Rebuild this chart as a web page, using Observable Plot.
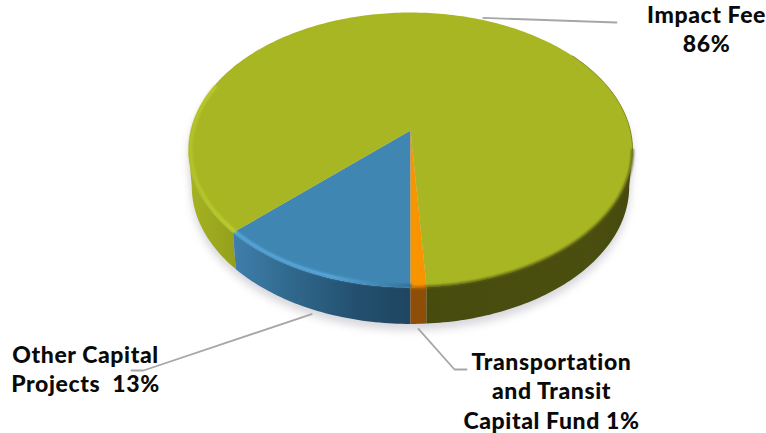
<!DOCTYPE html>
<html>
<head>
<meta charset="utf-8">
<script src="https://cdn.jsdelivr.net/npm/d3@7"></script>
<script src="https://cdn.jsdelivr.net/npm/@observablehq/plot@0.6"></script>
<style>html,body{margin:0;padding:0;background:#fff}svg{display:block}</style>
</head>
<body>
<div id="chart"></div>
<script>
// Data, in drawing order clockwise from the bottom of the pie
const categories = ["Other Capital Projects", "Impact Fee", "Transportation and Transit Capital Fund"];
const shares = [13, 86, 1];
const labelTexts = ["Other Capital\nProjects \u00a013%", "Impact Fee\n86%", "Transportation\nand Transit\nCapital Fund 1%"];
const topColors = ["#3f86b3", "#a9b623", "#f79400"];

// Pie projection (options for the chart's scales)
const pie = {cx: 410, cy: 130, a: 134.7, b: 219.8, k: -0.1418, depth: 36.5, bottomScale: 0.985, startDeg: 180};
const rad = Math.PI / 180;
function project(deg, inset = 1) {
  const u = Math.sin(deg * rad) * inset, v = -Math.cos(deg * rad) * inset;
  const w = 1 + pie.k * v;
  return {x: pie.cx + pie.b * u / w, y: pie.cy + pie.a * v / w};
}
function lower(deg, dy = pie.depth) {
  const p = project(deg);
  return {x: pie.cx + (p.x - pie.cx) * pie.bottomScale, y: p.y + dy};
}
function sweep(a0, a1, f = project) {
  const n = Math.max(2, Math.ceil(Math.abs(a1 - a0)));
  return d3.range(n + 1).map(i => f(a0 + (a1 - a0) * i / n));
}
// Slice angles from the shares
let cum = pie.startDeg;
const slices = categories.map((name, i) => {
  const a0 = cum, a1 = cum + shares[i] * 3.6;
  cum = a1;
  return {name, a0, a1, mid: (a0 + a1) / 2, color: topColors[i], label: labelTexts[i]};
});
const [other, impact, transport] = slices;

const limit = Math.acos(pie.k) / rad;        // angle where the rim is widest
const face = slices.flatMap(s =>
  [{x: pie.cx, y: pie.cy}, ...sweep(s.a0, s.a1)].map(p => ({...p, z: s.name, fill: s.color})));

function sidePoly(a0, a1) {
  return [...sweep(a0, a1), ...sweep(a1, a0, lower)];
}
const outlineShadow = sweep(0, 360, d => lower(d, pie.depth + 6));
const outlineShadow2 = sweep(0, 360, d => { const p = project(d); return {x: p.x, y: p.y + 8}; });

const sideLeft = sidePoly(other.a1, 360 - limit);
const sideOther = sidePoly(other.a0, other.a1);
const sideTransport = sidePoly(180 - 3.6, 180);
const sideRight = sidePoly(limit, 180 - 3.6);

// Leaders: start on the rim at the middle of each slice
const o0 = lower(other.mid, pie.depth + 5), i0 = project(impact.mid - 360, 1.02), t0 = lower(transport.mid, pie.depth + 5);
const leaders = [
  [o0, {x: 143, y: 370}, {x: 131, y: 370}],
  [i0, {x: 616, y: 22}],
  [t0, {x: 454, y: 369}, {x: 466, y: 369}]
].flatMap((pts, i) => pts.map(p => ({...p, z: i})));

const labelLayout = [
  {x: 85,  y: 341, text: other.label},
  {x: 706, y: 1,   text: impact.label},
  {x: 551, y: 348, text: transport.label}
];

const defs = () => {
  const ns = "http://www.w3.org/2000/svg";
  const d = document.createElementNS(ns, "defs");
  const grad = (id, stops) => {
    const g = document.createElementNS(ns, "linearGradient");
    g.setAttribute("id", id);
    stops.forEach(([o, c, a]) => {
      const s = document.createElementNS(ns, "stop");
      s.setAttribute("offset", o);
      s.setAttribute("stop-color", c);
      if (a != null) s.setAttribute("stop-opacity", a);
      g.appendChild(s);
    });
    d.appendChild(g);
  };
  grad("sideLeftG", [[0, "#a6b322"], [1, "#94a01c"]]);
  grad("sideOtherG", [[0, "#3f7fab"], [0.35, "#2f678b"], [0.7, "#234f6e"], [1, "#1f4561"]]);
  grad("sideRightG", [[0, "#474b0e"], [0.8, "#4a4e0f"], [1, "#45490e"]]);
  grad("bevelBlue", [[0, "#58a9dc"], [0.55, "#5bace0"], [0.85, "#3f84b0"], [1, "#2f6c94"]]);
  grad("bevelOlive", [[0, "#b4c62a"], [1, "#bfd22e"]]);
  return d;
};

const blur = px => ({imageFilter: `blur(${px}px)`});

const chart = Plot.plot({
  width: 766, height: 433,
  margin: 0,
  style: {background: "#fff", overflow: "hidden", letterSpacing: "0.6px"},
  x: {domain: [0, 766], range: [0, 766], axis: null},
  y: {domain: [0, 433], range: [0, 433], axis: null},
  marks: [
    defs,
    Plot.line(outlineShadow2, {x: "x", y: "y", fill: "#d6d6dc", stroke: "none", ...blur(4)}),
    Plot.line(outlineShadow, {x: "x", y: "y", fill: "#d6d6dc", stroke: "none", ...blur(4)}),
    Plot.line(sideLeft, {x: "x", y: "y", fill: "url(#sideLeftG)", stroke: "none"}),
    Plot.line(sideOther, {x: "x", y: "y", fill: "url(#sideOtherG)", stroke: "none"}),
    Plot.line(sideTransport, {x: "x", y: "y", fill: "#8f4e08", stroke: "none"}),
    Plot.line(sideRight, {x: "x", y: "y", fill: "url(#sideRightG)", stroke: "none"}),
    Plot.line(face, {x: "x", y: "y", z: "z", fill: "fill", stroke: "none"}),
    // darker soft edge on the right and lower rim
    Plot.line(sweep(limit - 45, limit), {x: "x", y: "y", stroke: "#7f8819", strokeWidth: 1, ...blur(0.5)}),
    Plot.line(sweep(limit, 180 - 3.6), {x: "x", y: "y", stroke: "#5a6012", strokeWidth: 2.5, ...blur(1.2)}),
    Plot.line(sweep(180 - 3.6, 180), {x: "x", y: "y", stroke: "#b86a04", strokeWidth: 2.5, ...blur(1)}),
    // light bevel on the lower left rim
    Plot.line(sweep(other.a0, other.a1, d => project(d, 0.99)), {x: "x", y: "y", stroke: "url(#bevelBlue)", strokeWidth: 3, ...blur(1)}),
    Plot.line(sweep(other.a1, 290, d => project(d, 0.99)), {x: "x", y: "y", stroke: "url(#bevelOlive)", strokeWidth: 3, ...blur(0.8)}),
    // leaders
    Plot.line(leaders, {x: "x", y: "y", z: "z", stroke: "#a6a6a6", strokeWidth: 1.8}),
    // labels
    Plot.text(labelLayout, {
      x: "x", y: "y", text: "text",
      lineAnchor: "top", lineHeight: 1.29,
      fontSize: 23, fontWeight: 900,
      fontFamily: "Lato, 'Open Sans', sans-serif",
      fill: "#0a0a0a"
    })
  ]
});
document.getElementById("chart").appendChild(chart);
</script>
</body>
</html>
